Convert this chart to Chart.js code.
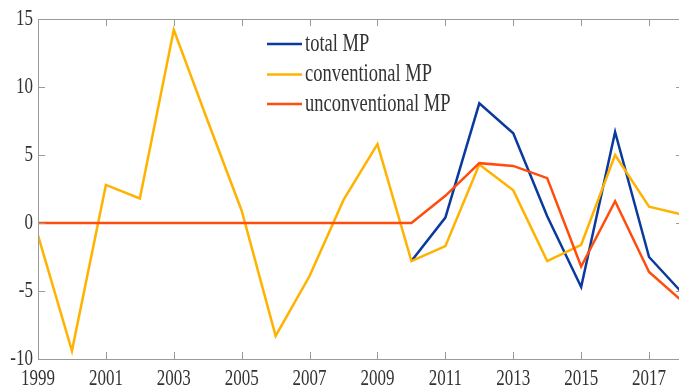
<!DOCTYPE html>
<html>
<head>
<meta charset="utf-8">
<script src="https://cdn.jsdelivr.net/npm/chart.js@4/dist/chart.umd.min.js"></script>
<style>
  html, body { margin: 0; padding: 0; background: #fff; overflow: hidden; }
  #wrap { width: 679px; height: 389px; overflow: hidden; }
</style>
</head>
<body>
<div id="wrap"><canvas id="chart" width="684" height="389"></canvas></div>
<script>
// years on the x axis
const years = [1999, 2000, 2001, 2002, 2003, 2004, 2005, 2006, 2007, 2008,
               2009, 2010, 2011, 2012, 2013, 2014, 2015, 2016, 2017, 2018];

// series values (total only shows from 2010 on)
const totalMP = [null, null, null, null, null, null, null, null, null, null,
                 null, -2.8, 0.4, 8.8, 6.6, 0.5, -4.7, 6.7, -2.5, -5.2];
const conventionalMP = [-0.9, -9.4, 2.8, 1.8, 14.2, 7.5, 0.9, -8.3, -3.9, 1.7,
                        5.8, -2.8, -1.7, 4.3, 2.4, -2.8, -1.6, 5.0, 1.2, 0.6];
const unconventionalMP = [0, 0, 0, 0, 0, 0, 0, 0, 0, 0,
                          0, 0, 2.0, 4.4, 4.2, 3.3, -3.2, 1.6, -3.6, -5.8];

// tick labels
const xTicks = [1999, 2001, 2003, 2005, 2007, 2009, 2011, 2013, 2015, 2017];
const yTicks = [-10, -5, 0, 5, 10, 15];

const labels = ['total MP', 'conventional MP', 'unconventional MP'];
const colors = ['#0a3a9e', '#ffb300', '#ff4d0d'];

const pts = arr => arr.map((v, i) => ({ x: years[i], y: v }));

const TEXT = '#333333';
const AXIS = '#9a9a9a';
const STRETCH = 1.34; // the reference text is taller than it is wide

function stretchedText(ctx, txt, x, y, align) {
  ctx.save();
  ctx.translate(x, y);
  ctx.scale(1, STRETCH);
  ctx.textAlign = align;
  ctx.textBaseline = 'middle';
  ctx.fillText(txt, 0, 0);
  ctx.restore();
}

// box, inward ticks and tick labels like the matlab axes
const boxAxes = {
  id: 'boxAxes',
  afterDatasetsDraw(chart) {
    const { ctx, chartArea: a, scales: { x, y } } = chart;
    const tl = 7;
    ctx.save();
    ctx.strokeStyle = AXIS;
    ctx.lineWidth = 1;
    ctx.beginPath();
    ctx.rect(a.left + 0.5, a.top + 0.5, a.right - a.left, a.bottom - a.top);
    xTicks.forEach(v => {
      const px = Math.round(x.getPixelForValue(v)) + 0.5;
      ctx.moveTo(px, a.bottom); ctx.lineTo(px, a.bottom - tl);
      ctx.moveTo(px, a.top); ctx.lineTo(px, a.top + tl);
    });
    yTicks.forEach(v => {
      const py = Math.round(y.getPixelForValue(v)) + 0.5;
      ctx.moveTo(a.left, py); ctx.lineTo(a.left + tl, py);
      ctx.moveTo(a.right, py); ctx.lineTo(a.right - tl, py);
    });
    ctx.stroke();

    ctx.fillStyle = TEXT;
    ctx.font = '17px "Liberation Serif", "DejaVu Serif", serif';
    xTicks.forEach(v => stretchedText(ctx, String(v), x.getPixelForValue(v), a.bottom + 20, 'center'));
    yTicks.forEach(v => stretchedText(ctx, String(v), a.left - 5, y.getPixelForValue(v), 'right'));
    ctx.restore();
  }
};

// legend without box, top middle of the plot
const mpLegend = {
  id: 'mpLegend',
  afterDraw(chart) {
    const ctx = chart.ctx;
    const rows = [44, 74.5, 104];
    ctx.save();
    ctx.font = '18.5px "Liberation Serif", "DejaVu Serif", serif';
    ctx.fillStyle = TEXT;
    labels.forEach((lab, i) => {
      ctx.strokeStyle = colors[i];
      ctx.lineWidth = 2.5;
      ctx.beginPath();
      ctx.moveTo(267, rows[i]);
      ctx.lineTo(302, rows[i]);
      ctx.stroke();
      stretchedText(ctx, lab, 305, rows[i], 'left');
    });
    ctx.restore();
  }
};

const series = [totalMP, conventionalMP, unconventionalMP];

new Chart(document.getElementById('chart'), {
  type: 'line',
  data: {
    datasets: series.map((s, i) => ({
      label: labels[i],
      data: pts(s),
      borderColor: colors[i],
      backgroundColor: colors[i],
      borderWidth: 2.5,
      pointRadius: 0,
      tension: 0,
      fill: false,
      spanGaps: false,
      order: 3 - i
    }))
  },
  options: {
    responsive: false,
    animation: false,
    events: [],
    layout: { padding: { top: 19, right: 1, left: 0, bottom: 0 } },
    plugins: { legend: { display: false }, tooltip: { enabled: false } },
    scales: {
      x: {
        type: 'linear',
        min: 1999,
        max: 2018,
        grid: { display: false },
        border: { display: false },
        ticks: { display: false },
        afterFit(scale) { scale.height = 30; }
      },
      y: {
        min: -10,
        max: 15,
        grid: { display: false },
        border: { display: false },
        ticks: { display: false, stepSize: 5 },
        afterFit(scale) { scale.width = 38; }
      }
    }
  },
  plugins: [boxAxes, mpLegend]
});
</script>
</body>
</html>
